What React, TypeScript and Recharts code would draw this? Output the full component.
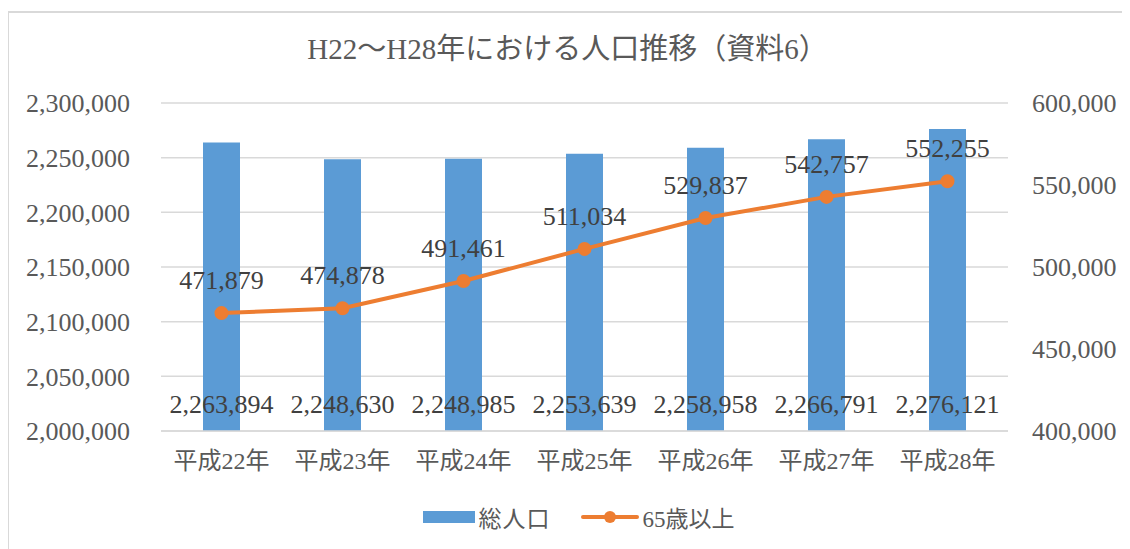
import React from 'react';
import {
  ComposedChart,
  Bar,
  Line,
  XAxis,
  YAxis,
  CartesianGrid,
  Legend,
  LabelList,
} from 'recharts';

const categories = ['平成22年', '平成23年', '平成24年', '平成25年', '平成26年', '平成27年', '平成28年'];
const totalPopulation = [2263894, 2248630, 2248985, 2253639, 2258958, 2266791, 2276121];
const elderlyPopulation = [471879, 474878, 491461, 511034, 529837, 542757, 552255];
const leftTicks = [2000000, 2050000, 2100000, 2150000, 2200000, 2250000, 2300000];
const rightTicks = [400000, 450000, 500000, 550000, 600000];

const TITLE = 'H22～H28年における人口推移（資料6）';
const SERIES_TOTAL = '総人口';
const SERIES_ELDERLY = '65歳以上';

const data = categories.map((c, i) => ({
  name: c,
  total: totalPopulation[i],
  elderly: elderlyPopulation[i],
}));

const FONT = "'Liberation Serif', 'Noto Sans CJK JP', serif";
const AXIS_COLOR = '#595959';
const LABEL_COLOR = '#404040';
const BLUE = '#5B9BD5';
const ORANGE = '#ED7D31';
const GRID = '#d9d9d9';

const fmt = (v: any) => Number(v).toLocaleString('en-US');

const LegendContent = () => (
  <div
    style={{
      display: 'flex',
      justifyContent: 'center',
      alignItems: 'center',
      height: 30,
      paddingLeft: 18,
      fontFamily: FONT,
      fontSize: 23,
      color: AXIS_COLOR,
    }}
  >
    <svg width={52} height={14} style={{ marginRight: 4 }}>
      <rect x={0} y={1} width={52} height={12} fill={BLUE} />
    </svg>
    <span style={{ letterSpacing: 1 }}>{SERIES_TOTAL}</span>
    <svg width={58} height={16} style={{ marginLeft: 30, marginRight: 4 }}>
      <line x1={2} y1={8} x2={56} y2={8} stroke={ORANGE} strokeWidth={4} strokeLinecap="round" />
      <circle cx={29} cy={8} r={6} fill={ORANGE} />
    </svg>
    <span>{SERIES_ELDERLY}</span>
  </div>
);

export default function App() {
  return (
    <div style={{ position: 'relative', width: 1130, height: 541 }}>
      <div
        style={{
          position: 'absolute',
          left: -1,
          top: 3,
          width: 1130,
          height: 545,
          borderLeft: `2px solid ${GRID}`,
          borderTop: `2px solid ${GRID}`,
          boxSizing: 'border-box',
          overflow: 'hidden',
        }}
      >
        <div
          style={{
            position: 'absolute',
            left: 0,
            top: 20,
            width: 1117,
            textAlign: 'center',
            fontFamily: FONT,
            fontSize: 29,
            lineHeight: '33px',
            color: AXIS_COLOR,
          }}
        >
          {TITLE}
        </div>
        <div style={{ position: 'absolute', left: 0, top: 0 }}>
          <ComposedChart
            width={1121}
            height={536}
            data={data}
            margin={{ top: 90, right: 0, bottom: 0, left: 0 }}
          >
            <CartesianGrid yAxisId="left" vertical={false} stroke={GRID} strokeWidth={1.5} />
            <XAxis
              dataKey="name"
              height={118}
              tickLine={false}
              axisLine={{ stroke: GRID, strokeWidth: 1.5 }}
              tickMargin={15}
              tick={{ fill: AXIS_COLOR, fontSize: 24, fontFamily: FONT }}
            />
            <YAxis
              yAxisId="left"
              orientation="left"
              width={152}
              domain={[2000000, 2300000]}
              ticks={leftTicks}
              tickFormatter={fmt}
              tickLine={false}
              axisLine={false}
              tickMargin={25}
              allowDataOverflow
              tick={{ fill: AXIS_COLOR, fontSize: 26, fontFamily: FONT }}
            />
            <YAxis
              yAxisId="right"
              orientation="right"
              width={122}
              domain={[400000, 600000]}
              ticks={rightTicks}
              tickFormatter={fmt}
              tickLine={false}
              axisLine={false}
              tickMargin={18}
              tick={{ fill: AXIS_COLOR, fontSize: 26, fontFamily: FONT }}
            />
            <Legend
              layout="horizontal"
              verticalAlign="middle"
              align="center"
              wrapperStyle={{ top: 489, left: 0, width: 1121 }}
              content={<LegendContent />}
            />
            <Bar
              yAxisId="left"
              dataKey="total"
              name={SERIES_TOTAL}
              fill={BLUE}
              barSize={37}
              isAnimationActive={false}
            >
              <LabelList
                dataKey="total"
                position="insideBottom"
                offset={18}
                formatter={fmt}
                fill={LABEL_COLOR}
                style={{ fontSize: 26, fontFamily: FONT }}
              />
            </Bar>
            <Line
              yAxisId="right"
              dataKey="elderly"
              name={SERIES_ELDERLY}
              stroke={ORANGE}
              strokeWidth={4}
              dot={{ r: 6, fill: ORANGE, stroke: ORANGE, strokeWidth: 2 }}
              activeDot={false}
              isAnimationActive={false}
            >
              <LabelList
                dataKey="elderly"
                position="top"
                offset={24}
                formatter={fmt}
                fill={LABEL_COLOR}
                style={{ fontSize: 26, fontFamily: FONT }}
              />
            </Line>
          </ComposedChart>
        </div>
      </div>
    </div>
  );
}
